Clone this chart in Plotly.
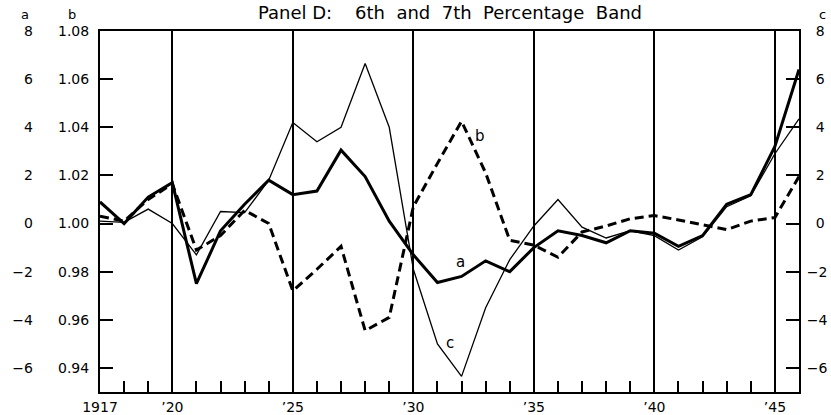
import plotly.graph_objects as go

years = list(range(1917, 1947))

# series a (left outer scale, thick solid)
series_a = [0.9, 0.0, 1.1, 1.7, -2.5, -0.3, 0.8, 1.8, 1.2, 1.35, 3.05, 1.95, 0.1, -1.3,
            -2.45, -2.2, -1.55, -2.0, -1.0, -0.3, -0.5, -0.8, -0.3, -0.4, -0.95, -0.5,
            0.8, 1.2, 3.2, 6.4]
# series b (left inner scale, dashed)
series_b = [1.003, 1.001, 1.010, 1.0165, 0.989, 0.995, 1.0055, 1.000, 0.972, 0.981,
            0.9905, 0.9555, 0.961, 1.007, 1.025, 1.0425, 1.021, 0.993, 0.991, 0.986,
            0.9965, 0.999, 1.002, 1.0033, 1.0015, 0.9995, 0.9975, 1.001, 1.0025, 1.0195]
# series c (right scale, thin)
series_c = [0.1, 0.05, 0.6, 0.0, -1.3, 0.5, 0.45, 1.8, 4.2, 3.4, 4.0, 6.65, 4.0, -1.9,
            -5.0, -6.35, -3.5, -1.5, -0.1, 1.0, -0.15, -0.6, -0.3, -0.5, -1.1, -0.55,
            0.7, 1.15, 2.9, 4.35]

x_tickvals = [1917, 1920, 1925, 1930, 1935, 1940, 1945]
x_ticktext = ["1917", "\u201920", "\u201925", "\u201930", "\u201935", "\u201940", "\u201945"]

a_tickvals = [-6, -4, -2, 0, 2, 4, 6, 8]
a_ticktext = ["\u22126", "\u22124", "\u22122", "0", "2", "4", "6", "8"]
b_tickvals = [0.94, 0.96, 0.98, 1.00, 1.02, 1.04, 1.06, 1.08]
b_ticktext = ["0.94", "0.96", "0.98", "1.00", "1.02", "1.04", "1.06", "1.08"]
c_tickvals = [-6, -4, -2, 0, 2, 4, 6, 8]
c_ticktext = ["\u22126", "\u22124", "\u22122", "\u20070", "\u20072", "\u20074", "\u20076", "\u20078"]

FONT = "DejaVu Sans"
TS = 14

fig = go.Figure()
fig.add_trace(go.Scatter(x=years, y=series_b, yaxis="y", mode="lines",
                         line=dict(color="black", width=3, dash="9px,5px"), name="b"))
fig.add_trace(go.Scatter(x=years, y=series_c, yaxis="y3", mode="lines",
                         line=dict(color="black", width=1.3), name="c"))
fig.add_trace(go.Scatter(x=years, y=series_a, yaxis="y2", mode="lines",
                         line=dict(color="black", width=3), name="a"))

fig.update_layout(
    width=831, height=415,
    margin=dict(l=100, r=32, t=31, b=23),
    paper_bgcolor="white", plot_bgcolor="white",
    showlegend=False,
    font=dict(family=FONT, size=TS, color="black"),
    title=dict(text="Panel D:    6th  and  7th  Percentage  Band", x=0.5007, xref="paper",
               y=1 - 13 / 415, yanchor="middle", xanchor="center", automargin=False,
               font=dict(family=FONT, size=18, color="black")),
    xaxis=dict(range=[1917, 1946], tickmode="array", tickvals=x_tickvals, ticktext=x_ticktext,
               ticks="inside", ticklen=11, tickwidth=1.5, tickcolor="black",
               showline=True, linewidth=2, linecolor="black", mirror=True,
               showgrid=True, gridcolor="black", gridwidth=1.6, zeroline=False,
               automargin=False, ticklabelstandoff=1,
               minor=dict(tickmode="array", tickvals=years, ticks="inside", ticklen=11,
                          tickwidth=1.5, tickcolor="black", showgrid=False),
               tickfont=dict(family=FONT, size=TS)),
    yaxis=dict(range=[0.93, 1.08], tickmode="array", tickvals=b_tickvals, ticktext=b_ticktext,
               ticks="inside", ticklen=13, tickwidth=1.6, tickcolor="black",
               showline=True, linewidth=2, linecolor="black",
               showgrid=False, zeroline=False, ticklabelstandoff=6, automargin=False,
               tickfont=dict(family=FONT, size=TS)),
    yaxis2=dict(range=[-7, 8], overlaying="y", side="left", tickmode="array",
                tickvals=a_tickvals, ticktext=a_ticktext, ticks="", showline=False,
                showgrid=False, zeroline=False, ticklabelstandoff=66, automargin=False,
                tickfont=dict(family=FONT, size=TS)),
    yaxis3=dict(range=[-7, 8], overlaying="y", side="right", tickmode="array",
                tickvals=c_tickvals, ticktext=c_ticktext,
                ticks="inside", ticklen=13, tickwidth=1.6, tickcolor="black",
                showline=True, linewidth=2, linecolor="black",
                showgrid=False, zeroline=False, ticklabelstandoff=3, automargin=False,
                tickfont=dict(family=FONT, size=TS)),
)

hdr_y = (392 - 14) / 361
annotations = [
    dict(text="a", x=1931.95, y=-1.6, xref="x", yref="y2", showarrow=False,
         xanchor="center", yanchor="middle", font=dict(family=FONT, size=15)),
    dict(text="b", x=1932.75, y=3.65, xref="x", yref="y2", showarrow=False,
         xanchor="center", yanchor="middle", font=dict(family=FONT, size=15)),
    dict(text="c", x=1931.5, y=-4.95, xref="x", yref="y2", showarrow=False,
         xanchor="center", yanchor="middle", font=dict(family=FONT, size=15)),
    dict(text="a", x=(25 - 100) / 699, y=hdr_y, xref="paper", yref="paper",
         showarrow=False, xanchor="center", yanchor="middle", font=dict(family=FONT, size=13)),
    dict(text="b", x=(72 - 100) / 699, y=hdr_y, xref="paper", yref="paper",
         showarrow=False, xanchor="center", yanchor="middle", font=dict(family=FONT, size=13)),
    dict(text="c", x=(822 - 100) / 699, y=hdr_y, xref="paper", yref="paper",
         showarrow=False, xanchor="center", yanchor="middle", font=dict(family=FONT, size=13)),
]
fig.update_layout(annotations=annotations)

fig.write_html("out.html", config={"displayModeBar": False},
               post_script="document.body.style.margin='0';")
